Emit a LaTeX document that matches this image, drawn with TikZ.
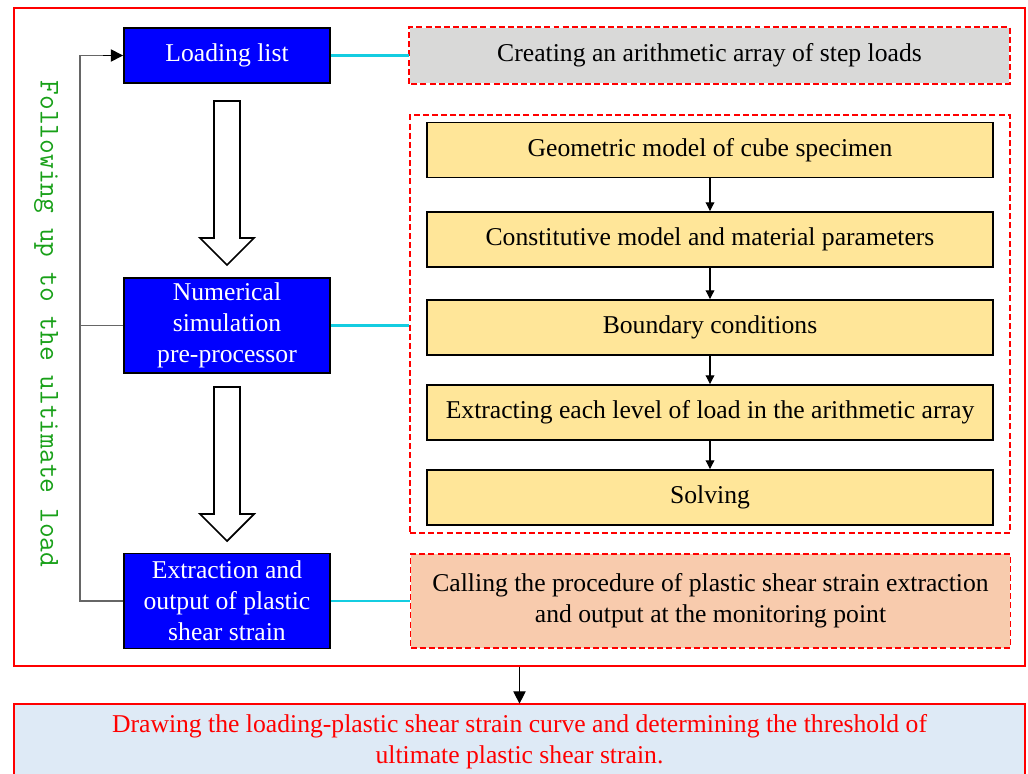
\documentclass[tikz,border=0pt]{standalone}
\usepackage{fontspec}
\setmainfont{Liberation Serif}
\usetikzlibrary{arrows.meta,calc}

\definecolor{boxblue}{RGB}{0,0,255}
\definecolor{fillgray}{RGB}{217,217,216}
\definecolor{paleyellow}{RGB}{255,230,153}
\definecolor{paleorange}{RGB}{248,203,173}
\definecolor{paleblue}{RGB}{222,234,246}
\definecolor{linkcyan}{RGB}{20,205,225}
\definecolor{loopgreen}{RGB}{24,160,24}

\tikzset{
  bluebox/.style={draw=black,line width=1.1pt,fill=boxblue,text=white,
    minimum width=4.12cm,align=center,inner sep=2pt},
  redash/.style={draw=red,line width=0.9pt,dash pattern=on 3.4pt off 1.8pt},
  dashbox/.style={redash,minimum width=12cm,align=center},
  stepbox/.style={draw=black,line width=1.1pt,fill=paleyellow,
    minimum width=11.32cm,minimum height=1.1cm},
  link/.style={linkcyan,line width=1.4pt},
  hollow/.style={draw=black,line width=1pt,fill=white},
  small/.style={-{Triangle[length=5pt,width=5pt]},line width=0.6pt},
}

\begin{document}
\begin{tikzpicture}[x=0.02cm,y=-0.02cm,font=\fontsize{14.6}{17.6}\selectfont]
  \useasboundingbox (0,0) rectangle (1028,774);

  % outer frame
  \node[draw=red,line width=1.2pt,minimum width=20.22cm,minimum height=13.16cm] (frame) at (519.5,337) {};

  % left column
  \node[bluebox,minimum height=1.1cm] (load) at (227,55.5) {Loading list};
  \node[bluebox,minimum height=1.9cm] (num) at (227,325.5) {Numerical\\simulation\\pre-processor};
  \node[bluebox,minimum height=1.9cm] (extr) at (227,601) {Extraction and\\output of plastic\\shear strain};

  \foreach \t/\b in {101/265, 387/541}
    \draw[hollow] (214,\t) -- (240,\t) -- (240,{\b-27}) -- (254,{\b-27}) -- (227,\b)
      -- (200,{\b-27}) -- (214,{\b-27}) -- cycle;

  % feedback loop
  \draw[black!60,line width=0.8pt] (extr.west) -- ++(-43,0) coordinate (corner) |- ($(load.west)+(-20,0)$);
  \draw[-{Triangle[length=7pt,width=7pt]},line width=0.8pt] ($(load.west)+(-20,0)$) -- (load.west);
  \draw[black!60,line width=0.8pt] (num.west) -- (corner |- num.west);
  \node[rotate=-90,text=loopgreen,font=\ttfamily\fontsize{16.3}{18}\selectfont] (loop) at (46,324) {Following up to the ultimate load};

  % right column
  \node[fill=fillgray,minimum width=12cm,minimum height=1.12cm] (array) at (709.5,55.5) {Creating an arithmetic array of step loads};
  \draw[redash] (array.south west) rectangle (array.north east);
  \node[dashbox,minimum height=8.36cm] (pre) at (710,324) {};
  \node[stepbox] (geo) at (710,150) {Geometric model of cube specimen};
  \node[stepbox] (mat) at (710,239.5) {Constitutive model and material parameters};
  \node[stepbox] (bc) at (710,327.5) {Boundary conditions};
  \node[stepbox] (lev) at (710,412.5) {Extracting each level of load in the arithmetic array};
  \node[stepbox] (solve) at (710,497.5) {Solving};
  \draw[small] (geo) -- (mat);
  \draw[small] (mat) -- (bc);
  \draw[small] (bc) -- (lev);
  \draw[small] (lev) -- (solve);
  \node[dashbox,fill=paleorange,minimum height=1.88cm] (call) at (710.5,601) {Calling the procedure of plastic shear strain extraction\\and output at the monitoring point};

  \draw[link] (load.east) -- (array.west);
  \draw[link] (num.east) -- (pre.west |- num.east);
  \draw[link] (extr.east) -- (call.west |- extr.east);

  % result
  \node[fill=paleblue,minimum width=20.22cm,minimum height=1.52cm,text=red,align=center] (result) at (519.5,742)
    {Drawing the loading-plastic shear strain curve and determining the threshold of\\ultimate plastic shear strain.};
  \draw[red,line width=1.2pt] (result.south west) |- (result.north east) -- (result.south east);
  \draw[-{Triangle[length=7pt,width=7pt]},line width=0.6pt] (frame.south) -- (result.north);
\end{tikzpicture}
\end{document}
